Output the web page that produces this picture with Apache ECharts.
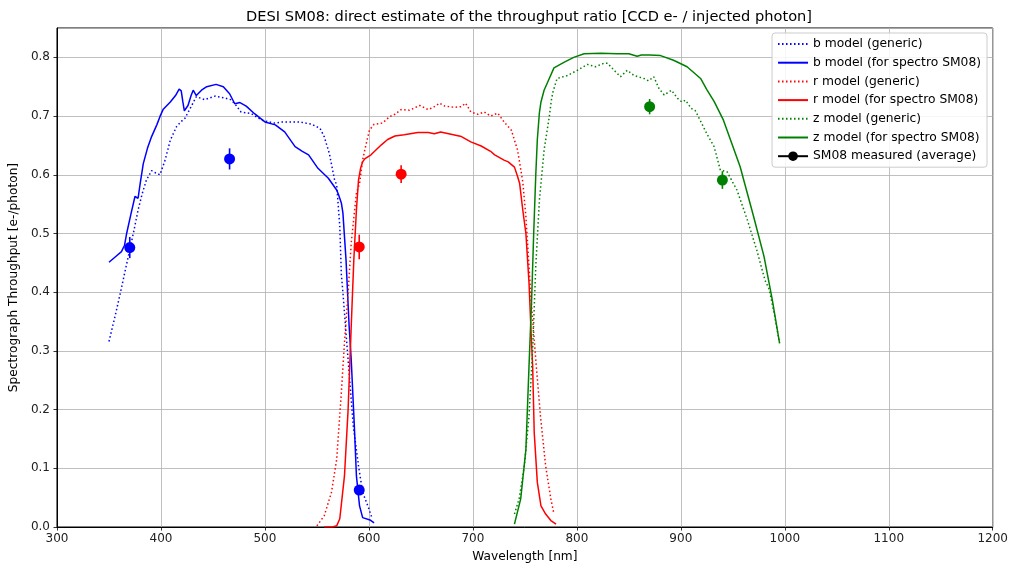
<!DOCTYPE html>
<html>
<head>
<meta charset="utf-8">
<script src="https://cdn.jsdelivr.net/npm/echarts@6/dist/echarts.min.js"></script>
<style>
html,body{margin:0;padding:0;background:#fff;}
#chart{width:1011px;height:568px;}
</style>
</head>
<body>
<div id="chart"></div>
<script>
// ---- data (wavelength nm, throughput e-/photon) ----
var bGeneric = [[350,0.316],[356,0.36],[362,0.407],[366,0.44],[370,0.472],[374,0.505],[378,0.540],[382,0.568],[386,0.591],[391,0.607],[395,0.603],[399,0.600],[404,0.625],[409,0.659],[415,0.682],[419,0.690],[423,0.696],[429,0.716],[434,0.733],[442,0.728],[452,0.734],[461,0.731],[467,0.728],[471,0.721],[477,0.707],[487,0.704],[497,0.693],[509,0.688],[517,0.690],[525,0.690],[533,0.690],[545,0.686],[553,0.679],[557,0.665],[562,0.636],[567,0.591],[569,0.583],[570,0.56],[572,0.512],[573.5,0.43],[575,0.40],[578,0.33],[580,0.285],[585,0.172],[590,0.104],[594,0.059],[600,0.031],[603,0.015]];
var bModel = [[350,0.451],[356,0.46],[362,0.469],[365,0.48],[367,0.500],[371,0.532],[375,0.563],[378,0.560],[380,0.585],[383,0.619],[387,0.645],[391,0.665],[396,0.685],[399,0.699],[402,0.711],[409,0.724],[414,0.735],[417.5,0.746],[419.5,0.743],[421,0.725],[422.5,0.709],[426,0.718],[429,0.735],[431,0.744],[434,0.735],[439,0.744],[444,0.750],[453,0.754],[460,0.750],[466,0.738],[471,0.721],[476,0.723],[482,0.717],[490,0.704],[500,0.690],[510,0.685],[519,0.673],[529,0.648],[536,0.640],[542,0.634],[551,0.611],[561,0.594],[569,0.574],[571,0.565],[573.5,0.552],[575,0.535],[578,0.455],[581,0.342],[583,0.285],[586,0.172],[588,0.087],[591,0.036],[594,0.016],[601,0.012],[605,0.007]];
var rGeneric = [[550,0.002],[557,0.019],[564,0.059],[569,0.115],[573.5,0.229],[576.5,0.314],[580,0.399],[583,0.484],[588,0.569],[591,0.585],[594,0.625],[596,0.642],[600.5,0.676],[605,0.686],[613,0.688],[620,0.699],[625,0.703],[631,0.711],[639,0.710],[649,0.718],[657,0.711],[663,0.716],[668,0.722],[673,0.717],[682,0.715],[689,0.716],[693,0.722],[698,0.707],[705,0.703],[711,0.707],[717,0.700],[724,0.705],[730,0.690],[737,0.676],[743,0.642],[748,0.588],[751,0.529],[756,0.387],[761,0.274],[765,0.189],[770,0.104],[775,0.048],[778,0.022]];
var rModel = [[557,0.0],[565,0.0],[569,0.002],[572,0.014],[576.5,0.087],[580,0.200],[583,0.342],[585.5,0.455],[588,0.540],[590,0.591],[592,0.611],[594,0.622],[596,0.627],[602,0.634],[612,0.651],[618,0.660],[625,0.666],[634,0.668],[647,0.672],[657,0.672],[663,0.670],[669,0.673],[679,0.669],[689,0.665],[698,0.656],[708,0.649],[717,0.640],[721,0.634],[730,0.625],[734,0.622],[740,0.613],[743,0.597],[745,0.585],[748,0.540],[751,0.500],[754,0.416],[756,0.331],[757.5,0.274],[759,0.161],[762,0.076],[765.5,0.036],[770,0.022],[775,0.011],[780,0.005]];
var zGeneric = [[740,0.022],[744.5,0.048],[749.5,0.104],[754,0.189],[757.5,0.302],[760.5,0.444],[764,0.557],[768.5,0.642],[773.5,0.699],[775.5,0.727],[777,0.741],[781,0.764],[791,0.769],[800.5,0.778],[810,0.788],[818,0.784],[826,0.790],[829.5,0.790],[837,0.776],[842,0.767],[848.5,0.778],[855,0.769],[864.5,0.764],[869,0.760],[874,0.767],[879,0.747],[884,0.736],[891,0.744],[897,0.730],[901,0.724],[904.5,0.727],[910,0.713],[914,0.709],[925,0.670],[932,0.648],[938,0.608],[944.5,0.605],[954,0.574],[964,0.523],[973,0.472],[981,0.420],[985,0.405],[990,0.362],[995,0.313]];
var zModel = [[740,0.005],[746,0.048],[751,0.132],[754,0.274],[756.5,0.387],[758.5,0.500],[760.5,0.600],[762,0.660],[764,0.706],[765.5,0.724],[768.5,0.744],[772,0.758],[778,0.782],[788,0.792],[797,0.800],[807,0.806],[823,0.807],[839,0.806],[850,0.806],[858,0.802],[862,0.804],[870,0.804],[880.5,0.803],[893,0.795],[906,0.784],[919,0.764],[925,0.745],[932,0.725],[941,0.693],[957,0.614],[970,0.529],[980,0.461],[988,0.387],[995,0.313]];
// measured points: [wavelength, value, error]
var bMeasured = [[370,0.476,0.018],[466,0.627,0.018],[590.7,0.063,0.008]];
var rMeasured = [[590.7,0.477,0.021],[631,0.601,0.015]];
var zMeasured = [[870,0.716,0.013],[940,0.591,0.015]];
var xTicks = [300,400,500,600,700,800,900,1000,1100,1200];
var yTicks = [0.0,0.1,0.2,0.3,0.4,0.5,0.6,0.7,0.8];

var BLUE='#0000ff', RED='#ff0000', GREEN='#008000';
var FONT='DejaVu Sans';
var DOT=[1.5,2.5];

function lineSeries(name, data, color, dotted){
  return {name:name, type:'line', data:data, showSymbol:false, symbol:'none',
    lineStyle:{color:color, width:1.5, type: dotted?DOT:'solid', cap:'butt'},
    itemStyle:{color:color}, z:2, silent:true, clip:true};
}
function errSeries(data, color){
  return {type:'custom', data:data, z:3, silent:true,
    renderItem:function(params, api){
      var x=api.value(0), y=api.value(1), e=api.value(2);
      var p1=api.coord([x,y+e]), p2=api.coord([x,y-e]);
      return {type:'line', shape:{x1:p1[0],y1:p1[1],x2:p2[0],y2:p2[1]}, style:{stroke:color, lineWidth:1.6}};
    }};
}
function markSeries(data, color){
  return {type:'scatter', data:data.map(function(d){return [d[0],d[1]];}), symbol:'circle', symbolSize:11,
    itemStyle:{color:color, opacity:1}, z:4, silent:true};
}
var HIDE={color:'rgba(0,0,0,0)', borderWidth:0, opacity:0};
function legItem(name){ return {name:name, itemStyle:HIDE}; }

var chart = echarts.init(document.getElementById('chart'), null, {renderer:'canvas'});
chart.setOption({
  animation:false,
  backgroundColor:'#fff',
  title:{text:'DESI SM08: direct estimate of the throughput ratio [CCD e- / injected photon]',
    left:524, top:5, textAlign:'center',
    textStyle:{fontFamily:FONT, fontSize:14.6, fontWeight:'normal', color:'#000'}},
  grid:{left:55, right:18, top:28, bottom:40, show:true, borderColor:'#000', borderWidth:1, backgroundColor:'transparent'},
  legend:{orient:'vertical', right:24, top:33, itemWidth:30, itemHeight:12, itemGap:6.7,
    padding:[5,6,5,5], backgroundColor:'rgba(255,255,255,0.85)', borderColor:'#cccccc', borderWidth:1, borderRadius:3,
    textStyle:{fontFamily:FONT, fontSize:12.3, color:'#000'},
    data:[legItem('b model (generic)'),legItem('b model (for spectro SM08)'),legItem('r model (generic)'),legItem('r model (for spectro SM08)'),legItem('z model (generic)'),legItem('z model (for spectro SM08)'),{name:'SM08 measured (average)'}]},
  xAxis:{type:'value', min:xTicks[0], max:xTicks[xTicks.length-1], interval:xTicks[1]-xTicks[0],
    name:'Wavelength [nm]', nameLocation:'middle', nameGap:24,
    nameTextStyle:{fontFamily:FONT, fontSize:12.2, color:'#000'},
    axisLine:{show:true, onZero:false, lineStyle:{color:'#000', width:1}},
    axisTick:{show:true, length:3.5, lineStyle:{color:'#000', width:0.8}},
    axisLabel:{fontFamily:FONT, fontSize:12, color:'#222', margin:6, formatter:function(v){return String(v);}},
    splitLine:{show:true, lineStyle:{color:'#b0b0b0', width:0.8}}},
  yAxis:{type:'value', min:yTicks[0], max:0.85, interval:yTicks[1]-yTicks[0],
    name:'Spectrograph Throughput [e-/photon]', nameLocation:'middle', nameGap:33,
    nameTextStyle:{fontFamily:FONT, fontSize:12.2, color:'#000'},
    axisLine:{show:true, lineStyle:{color:'#000', width:1}},
    axisTick:{show:true, length:3.5, lineStyle:{color:'#000', width:0.8}},
    axisLabel:{fontFamily:FONT, fontSize:12, color:'#222', margin:7, showMaxLabel:false,
      formatter:function(v){return v.toFixed(1);}},
    splitLine:{show:true, lineStyle:{color:'#b0b0b0', width:0.8}}},
  series:[
    lineSeries('b model (generic)', bGeneric, BLUE, true),
    lineSeries('b model (for spectro SM08)', bModel, BLUE, false),
    lineSeries('r model (generic)', rGeneric, RED, true),
    lineSeries('r model (for spectro SM08)', rModel, RED, false),
    lineSeries('z model (generic)', zGeneric, GREEN, true),
    lineSeries('z model (for spectro SM08)', zModel, GREEN, false),
    {name:'SM08 measured (average)', type:'line', data:[], symbol:'circle', symbolSize:10,
      lineStyle:{color:'#000', width:1.5}, itemStyle:{color:'#000'}},
    errSeries(bMeasured, BLUE), errSeries(rMeasured, RED), errSeries(zMeasured, GREEN),
    markSeries(bMeasured, BLUE), markSeries(rMeasured, RED), markSeries(zMeasured, GREEN)
  ]
});
</script>
</body>
</html>
